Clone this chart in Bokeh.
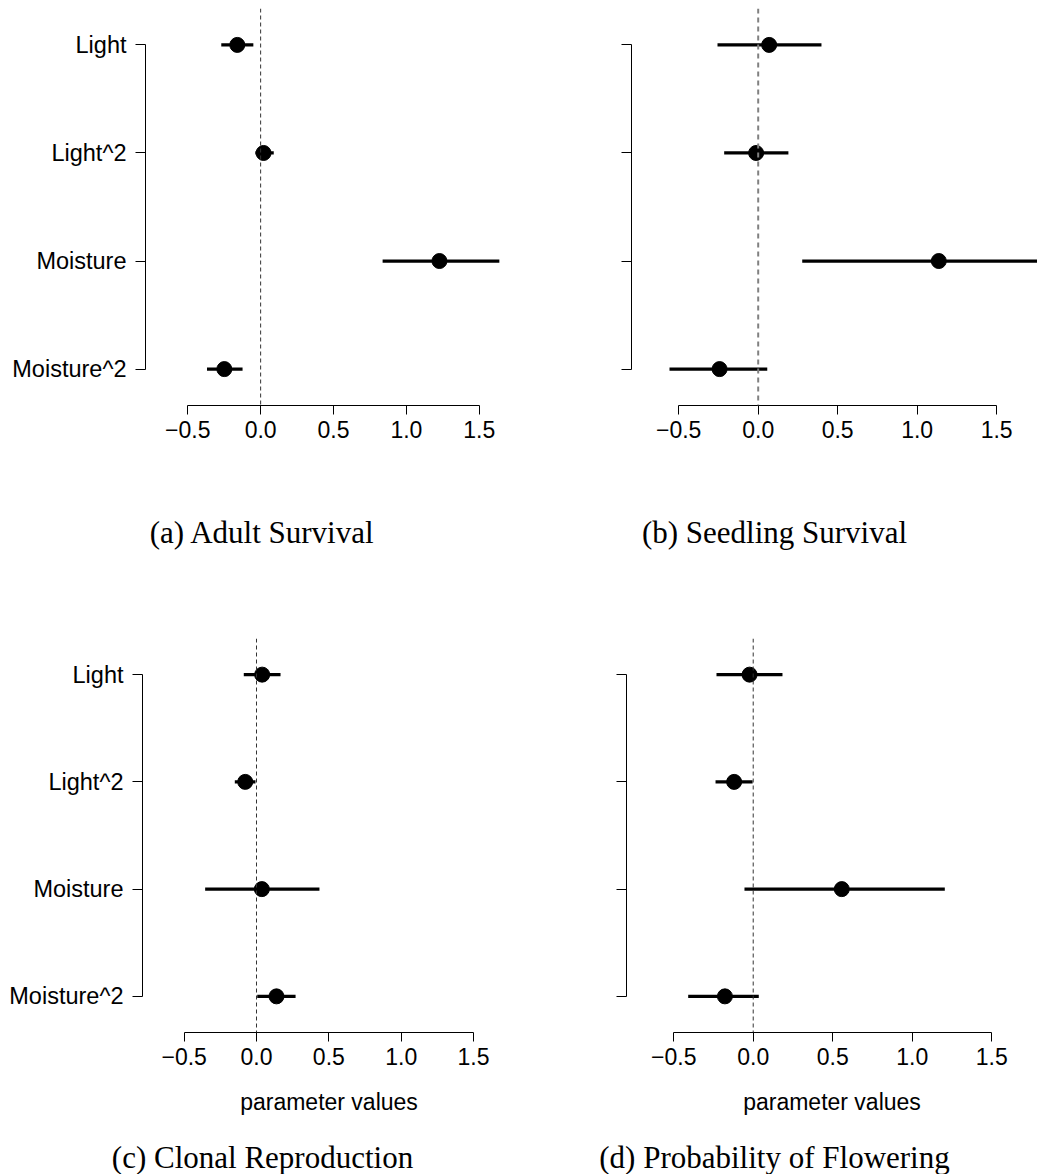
from bokeh.plotting import figure
from bokeh.models import Span, FixedTicker, Label, ColumnDataSource
from bokeh.layouts import column, row
from bokeh.embed import file_html
from bokeh.resources import INLINE

# ---------------- data ----------------
terms = ["Light", "Light^2", "Moisture", "Moisture^2"]
x_ticks = [-0.5, 0.0, 0.5, 1.0, 1.5]
x_tick_labels = ["\u22120.5", "0.0", "0.5", "1.0", "1.5"]

adult_est = [-0.16, 0.02, 1.227, -0.249]
adult_lo = [-0.27, -0.036, 0.837, -0.368]
adult_hi = [-0.05, 0.09, 1.638, -0.124]

seedling_est = [0.069, -0.013, 1.136, -0.243]
seedling_lo = [-0.256, -0.214, 0.277, -0.558]
seedling_hi = [0.398, 0.19, 1.99, 0.057]

clonal_est = [0.039, -0.078, 0.037, 0.138]
clonal_lo = [-0.088, -0.15, -0.355, 0.005]
clonal_hi = [0.166, -0.007, 0.435, 0.27]

flower_est = [-0.023, -0.12, 0.557, -0.178]
flower_lo = [-0.231, -0.237, -0.055, -0.409]
flower_hi = [0.184, -0.004, 1.205, 0.035]

captions = ["(a) Adult Survival", "(b) Seedling Survival",
            "(c) Clonal Reproduction", "(d) Probability of Flowering"]
x_label = "parameter values"

SANS = "Liberation Sans"
SERIF = "Liberation Serif"
W = 1037


def panel(est, lo, hi, width, height, border, xr, show_ylabels, xlabel,
          zero_style):
    bl, br, bt, bb = border
    p = figure(width=width, height=height, output_backend="svg",
               toolbar_location=None, x_range=xr, y_range=(0.663, 4.337),
               min_border_left=bl, min_border_right=br,
               min_border_top=bt, min_border_bottom=bb)
    p.grid.visible = False
    p.outline_line_color = None
    p.background_fill_color = "white"
    p.border_fill_color = "white"

    ypos = [len(terms) - i for i in range(len(terms))]
    src = ColumnDataSource(dict(term=terms, y=ypos, est=est, lo=lo, hi=hi))

    col, lw, dash = zero_style
    p.add_layout(Span(location=0, dimension="height", line_color=col,
                      line_width=lw, line_dash=dash))

    p.segment(x0="lo", x1="hi", y0="y", y1="y", source=src,
              line_color="black", line_width=3.2)
    p.scatter(x="est", y="y", source=src, size=15, marker="circle",
              fill_color="black", line_color="black")

    # x axis
    xa = p.xaxis[0]
    xa.ticker = FixedTicker(ticks=x_ticks)
    xa.major_label_overrides = {t: s for t, s in zip(x_ticks, x_tick_labels)}
    xa.bounds = (x_ticks[0], x_ticks[-1])
    xa.minor_tick_line_color = None
    xa.major_tick_out = 9
    xa.major_tick_in = 0
    xa.axis_line_color = "black"
    xa.major_tick_line_color = "black"
    xa.major_label_text_font = SANS
    xa.major_label_text_font_size = "23px"
    xa.major_label_text_color = "black"
    xa.major_label_standoff = 6
    if xlabel:
        xa.axis_label = xlabel
        xa.axis_label_text_font = SANS
        xa.axis_label_text_font_size = "23px"
        xa.axis_label_text_font_style = "normal"
        xa.axis_label_text_color = "black"
        xa.axis_label_standoff = 21

    # y axis
    ya = p.yaxis[0]
    ya.ticker = FixedTicker(ticks=ypos)
    if show_ylabels:
        ya.major_label_overrides = {y: t for y, t in zip(ypos, terms)}
    else:
        ya.major_label_overrides = {y: "" for y in ypos}
    ya.bounds = (1, len(terms))
    ya.minor_tick_line_color = None
    ya.major_tick_out = 10
    ya.major_tick_in = 0
    ya.axis_line_color = "black"
    ya.major_tick_line_color = "black"
    ya.major_label_text_font = SANS
    ya.major_label_text_font_size = "23.5px"
    ya.major_label_text_color = "black"
    ya.major_label_standoff = 9
    ya.major_label_orientation = "horizontal"
    return p


def caption_strip(texts, centers, height, y_from_bottom):
    c = figure(width=W, height=height, output_backend="svg",
               toolbar_location=None, x_axis_location=None,
               y_axis_location=None, min_border=0)
    c.grid.visible = False
    c.outline_line_color = None
    for t, cx in zip(texts, centers):
        c.add_layout(Label(x=cx, y=y_from_bottom, x_units="screen",
                           y_units="screen", text=t, text_align="center",
                           text_baseline="middle", text_font=SERIF,
                           text_font_size="31px", text_color="black"))
    return c


dark = ("#333333", 1, "4 3")
grey = ("#808080", 2, "5 4")

pa = panel(adult_est, adult_lo, adult_hi, 521, 500,
           (145, 0, 8, 95), (-0.79, 1.79), True, None, dark)
pb = panel(seedling_est, seedling_lo, seedling_hi, 516, 500,
           (110, 0, 8, 95), (-0.797, 1.757), False, None, grey)
cap1 = caption_strip(captions[:2], [262, 774], 130, 98)

pc = panel(clonal_est, clonal_lo, clonal_hi, 521, 504,
           (142, 6, 8, 102), (-0.788, 1.79), True, x_label, dark)
pd = panel(flower_est, flower_lo, flower_hi, 516, 504,
           (105, 0, 8, 102), (-0.797, 1.788), False, x_label, dark)
cap2 = caption_strip(captions[2:], [262, 774], 40, 17)

layout = column(row(pa, pb), cap1, row(pc, pd), cap2)

with open("out.html", "w") as f:
    f.write(file_html(layout, INLINE))
